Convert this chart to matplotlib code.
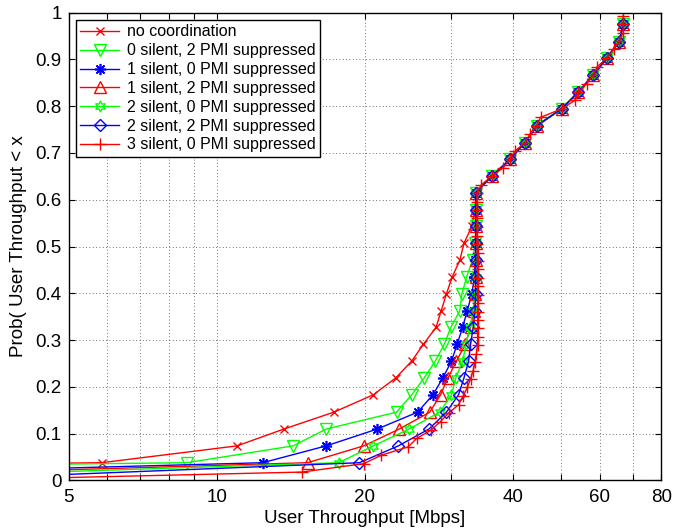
import matplotlib
matplotlib.use("Agg")
import matplotlib.pyplot as plt
from matplotlib.ticker import FixedLocator, NullFormatter

plt.rcParams['font.family'] = ['Liberation Sans', 'DejaVu Sans']

# y levels of the markers (shared by six of the seven curves)
y_levels = [0.038, 0.074, 0.110, 0.146, 0.183, 0.219, 0.255, 0.291, 0.327,
            0.363, 0.399, 0.435, 0.471, 0.507, 0.543, 0.579, 0.615, 0.650,
            0.686, 0.722, 0.758, 0.794, 0.830, 0.866, 0.902, 0.938, 0.975]

# common upper part (y >= 0.615)
x_top = [33.6, 36.2, 39.4, 42.3, 44.7, 50.2, 54.3, 58.2, 62.0, 65.7, 67.0]

# throughput at each level; first value of each list sits left of the axis
no_coord_x = [4.0, 5.84, 11.0, 13.7, 17.3, 20.8, 23.1, 24.9, 26.3, 27.9, 28.6,
              29.3, 30.1, 31.2, 31.8, 33.0, 33.5] + x_top
no_coord_y = [0.036] + y_levels

s0p2_x = [4.0, 8.7, 14.3, 16.7, 23.2, 24.9, 26.4, 27.8, 29.0, 29.9, 31.2, 31.5,
          32.2, 33.1, 33.5, 33.6, 33.6] + x_top
s0p2_y = [0.034] + y_levels

s1p0_x = [4.0, 12.4, 16.7, 21.2, 25.6, 27.5, 28.8, 30.0, 30.8, 31.6, 32.3, 33.0,
          33.4, 33.5, 33.6, 33.6, 33.6] + x_top
s1p0_y = [0.024] + y_levels

s1p2_x = [4.0, 15.3, 19.9, 23.5, 27.1, 28.5, 29.5, 30.7, 32.0, 32.8, 33.3, 33.5,
          33.6, 33.6, 33.6, 33.6, 33.6] + x_top
s1p2_y = [0.020] + y_levels

s2p0_x = [4.0, 17.7, 20.8, 24.6, 28.4, 30.0, 30.6, 31.6, 32.1, 32.7, 33.2, 33.5,
          33.6, 33.6, 33.6, 33.6, 33.6] + x_top
s2p0_y = [0.016] + y_levels

s2p2_x = [4.0, 19.5, 23.4, 27.0, 29.3, 31.0, 31.8, 32.5, 32.8, 33.2, 33.5, 33.6,
          33.6, 33.6, 33.6, 33.6, 33.6] + x_top
s2p2_y = [0.009] + y_levels

# 3 silent curve has twice as many points
s3p0_y = [0.004, 0.018, 0.036, 0.054, 0.072, 0.090, 0.108, 0.126, 0.144, 0.162,
          0.181, 0.199, 0.217, 0.235, 0.253, 0.271, 0.289, 0.307, 0.325, 0.343,
          0.361, 0.379, 0.397, 0.415, 0.433, 0.451, 0.469, 0.487, 0.505, 0.523,
          0.542, 0.560, 0.578, 0.596, 0.614, 0.632, 0.650, 0.668, 0.686, 0.704,
          0.722, 0.740, 0.758, 0.776, 0.794, 0.812, 0.830, 0.848, 0.866, 0.884,
          0.902, 0.921, 0.939, 0.957, 0.975, 0.993]
s3p0_x = [4.0, 14.9, 19.9, 21.6, 24.5, 25.5, 27.3, 28.5, 29.6, 31.0, 31.7,
          32.3, 32.8, 33.2, 33.5, 33.7, 33.9, 33.9, 33.9, 33.9, 33.9, 33.9,
          33.9, 33.9, 33.9, 33.9, 33.9, 33.9, 33.8, 33.8, 33.8, 33.8, 33.8,
          33.8, 33.8, 34.5, 36.2, 38.2, 39.4, 40.4, 42.3, 43.3, 44.7, 45.5,
          50.2, 53.4, 54.3, 56.5, 58.2, 59.3, 62.0, 64.1, 65.7, 67.0, 67.0, 67.0]

labels = ['no coordination', '0 silent, 2 PMI suppressed', '1 silent, 0 PMI suppressed',
          '1 silent, 2 PMI suppressed', '2 silent, 0 PMI suppressed',
          '2 silent, 2 PMI suppressed', '3 silent, 0 PMI suppressed']

fig = plt.figure(figsize=(6.83, 5.30), dpi=100)
ax = fig.add_axes([0.1003, 0.0934, 0.8677, 0.8830])

ax.plot(no_coord_x, no_coord_y, color='red', marker='x', ms=6, lw=1, label=labels[0])
ax.plot(s0p2_x, s0p2_y, color='lime', marker='v', ms=9, mfc='none', lw=1, label=labels[1])
ax.plot(s1p0_x, s1p0_y, color='blue', marker=(8, 2, 0), ms=8, mew=1.2, lw=1, label=labels[2])
ax.plot(s1p2_x, s1p2_y, color='red', marker='^', ms=9, mfc='none', lw=1, label=labels[3])
ax.plot(s2p0_x, s2p0_y, color='lime', marker=(6, 1, 0), ms=8, mfc='none', lw=1, label=labels[4])
ax.plot(s2p2_x, s2p2_y, color='blue', marker='D', ms=6.5, mfc='none', lw=1, label=labels[5])
ax.plot(s3p0_x, s3p0_y, color='red', marker='+', ms=9, lw=1, label=labels[6])

ax.set_xscale('log')
ax.set_xlim(5, 80)
ax.set_ylim(0, 1)

ax.xaxis.set_major_locator(FixedLocator([5, 10, 20, 40, 60, 80]))
ax.xaxis.set_minor_locator(FixedLocator([6, 7, 8, 9, 30, 50, 70]))
ax.xaxis.set_minor_formatter(NullFormatter())
ax.set_xticklabels(['5', '10', '20', '40', '60', '80'])
ax.set_yticks([0, 0.1, 0.2, 0.3, 0.4, 0.5, 0.6, 0.7, 0.8, 0.9, 1])
ax.set_yticklabels(['0', '0.1', '0.2', '0.3', '0.4', '0.5', '0.6', '0.7', '0.8', '0.9', '1'])

ax.tick_params(which='both', direction='in', top=True, right=True, length=4,
               width=0.8, labelsize=13.5)
ax.tick_params(axis='x', which='both', pad=6)
ax.tick_params(axis='y', pad=5)
ax.grid(True, which='both', axis='x', linestyle=(0, (1, 3)), color='#444444', lw=0.6)
ax.grid(True, which='major', axis='y', linestyle=(0, (1, 3)), color='#444444', lw=0.6)
for s in ax.spines.values():
    s.set_linewidth(1)

ax.set_xlabel('User Throughput [Mbps]', fontsize=13.5, labelpad=3)
ax.set_ylabel('Prob( User Throughput < x', fontsize=13.5, labelpad=6)

leg = ax.legend(loc='upper left', fontsize=11.5, fancybox=False, framealpha=1,
                edgecolor='black', labelspacing=0.24, handlelength=2.4,
                handletextpad=0.5, borderaxespad=0.45, borderpad=0.3)
leg.get_frame().set_linewidth(1)

fig.savefig('out.png', dpi=100)
